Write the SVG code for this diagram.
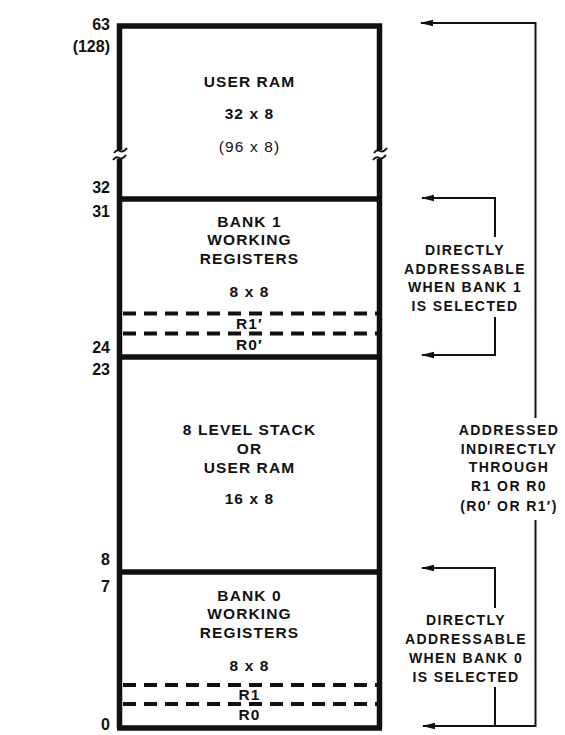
<svg xmlns="http://www.w3.org/2000/svg" width="565" height="735" viewBox="0 0 565 735">
<defs>
<style>
.t{font-family:"Liberation Sans",Arial,sans-serif;font-weight:bold;font-size:15.5px;letter-spacing:1.1px;fill:#111;text-anchor:middle}
.n{font-family:"Liberation Sans",Arial,sans-serif;font-weight:bold;font-size:16px;fill:#111;text-anchor:end}
.s{font-family:"Liberation Sans",Arial,sans-serif;font-weight:bold;font-size:14px;letter-spacing:1.4px;fill:#111;text-anchor:middle}
.w{stroke:#111;stroke-width:5.5;fill:none}
.d{stroke:#111;stroke-width:4;fill:none;stroke-dasharray:13 8}
.b{stroke:#111;stroke-width:2;fill:none}
</style>
<marker id="ah" markerWidth="13" markerHeight="8" refX="12" refY="4" orient="auto" markerUnits="userSpaceOnUse">
<path d="M0,0.8 L13,4 L0,7.2 Z" fill="#111"/>
</marker>
</defs>
<rect width="565" height="735" fill="#fff"/>

<g id="user-ram">
<path class="w" d="M119.5,150 V26 H379.5 V150"/>
<path class="w" d="M119.5,159 V199 M379.5,159 V199"/>
<path class="b" d="M114,153 q3,-4 6,-2 t7,-3 M374,153 q3,-4 6,-2 t7,-3"/>
<path class="b" d="M113,160 q3,-4 6,-2 t7,-3 M373,160 q3,-4 6,-2 t7,-3"/>
<text class="t" x="249.5" y="87">USER RAM</text>
<text class="t" x="249.5" y="119">32 x 8</text>
<text class="t" x="249.5" y="152" style="font-weight:normal">(96 x 8)</text>
</g>

<g id="bank1">
<path class="w" d="M117,199 H382 M119.5,199 V357 M379.5,199 V357"/>
<line class="d" x1="123" y1="313.5" x2="377" y2="313.5"/>
<line class="d" x1="123" y1="333.5" x2="377" y2="333.5"/>
<text class="t" x="249.5" y="227">BANK 1</text>
<text class="t" x="249.5" y="245">WORKING</text>
<text class="t" x="249.5" y="264">REGISTERS</text>
<text class="t" x="249.5" y="297">8 x 8</text>
<text class="t" x="249.5" y="329">R1′</text>
<text class="t" x="249.5" y="350">R0′</text>
</g>

<g id="stack">
<path class="w" d="M117,357 H382 M119.5,357 V572 M379.5,357 V572"/>
<text class="t" x="249.5" y="435">8 LEVEL STACK</text>
<text class="t" x="249.5" y="454">OR</text>
<text class="t" x="249.5" y="473">USER RAM</text>
<text class="t" x="249.5" y="504">16 x 8</text>
</g>

<g id="bank0">
<path class="w" d="M117,572 H382 M119.5,572 V728 M379.5,572 V728 M117,728 H382"/>
<line class="d" x1="123" y1="685" x2="377" y2="685"/>
<line class="d" x1="123" y1="704" x2="377" y2="704"/>
<text class="t" x="249.5" y="601">BANK 0</text>
<text class="t" x="249.5" y="619">WORKING</text>
<text class="t" x="249.5" y="638">REGISTERS</text>
<text class="t" x="249.5" y="671">8 x 8</text>
<text class="t" x="249.5" y="700">R1</text>
<text class="t" x="249.5" y="720">R0</text>
</g>

<g id="addresses">
<text class="n" x="110" y="30">63</text>
<text class="n" x="110" y="52">(128)</text>
<text class="n" x="110" y="193">32</text>
<text class="n" x="110" y="217">31</text>
<text class="n" x="110" y="353">24</text>
<text class="n" x="110" y="375">23</text>
<text class="n" x="110" y="565">8</text>
<text class="n" x="110" y="592">7</text>
<text class="n" x="110" y="730">0</text>
</g>

<g id="connectors">
<path class="b" d="M495,237 V198 H422" marker-end="url(#ah)"/>
<path class="b" d="M495,317 V355 H422" marker-end="url(#ah)"/>
<path class="b" d="M495,608 V568 H422" marker-end="url(#ah)"/>
<path class="b" d="M535.5,418 V23 H421" marker-end="url(#ah)"/>
<path class="b" d="M535.5,520 V726 H423" marker-end="url(#ah)"/>
<path class="b" d="M495,687 V726"/>
</g>

<g id="label-bank1">
<text class="s" x="465" y="255">DIRECTLY</text>
<text class="s" x="465" y="274">ADDRESSABLE</text>
<text class="s" x="465" y="292">WHEN BANK 1</text>
<text class="s" x="465" y="311">IS SELECTED</text>
</g>
<g id="label-indirect">
<text class="s" x="509" y="435">ADDRESSED</text>
<text class="s" x="509" y="454">INDIRECTLY</text>
<text class="s" x="509" y="472">THROUGH</text>
<text class="s" x="509" y="491">R1 OR R0</text>
<text class="s" x="509" y="511">(R0′ OR R1′)</text>
</g>
<g id="label-bank0">
<text class="s" x="466" y="625">DIRECTLY</text>
<text class="s" x="466" y="644">ADDRESSABLE</text>
<text class="s" x="466" y="663">WHEN BANK 0</text>
<text class="s" x="466" y="682">IS SELECTED</text>
</g>
</svg>
